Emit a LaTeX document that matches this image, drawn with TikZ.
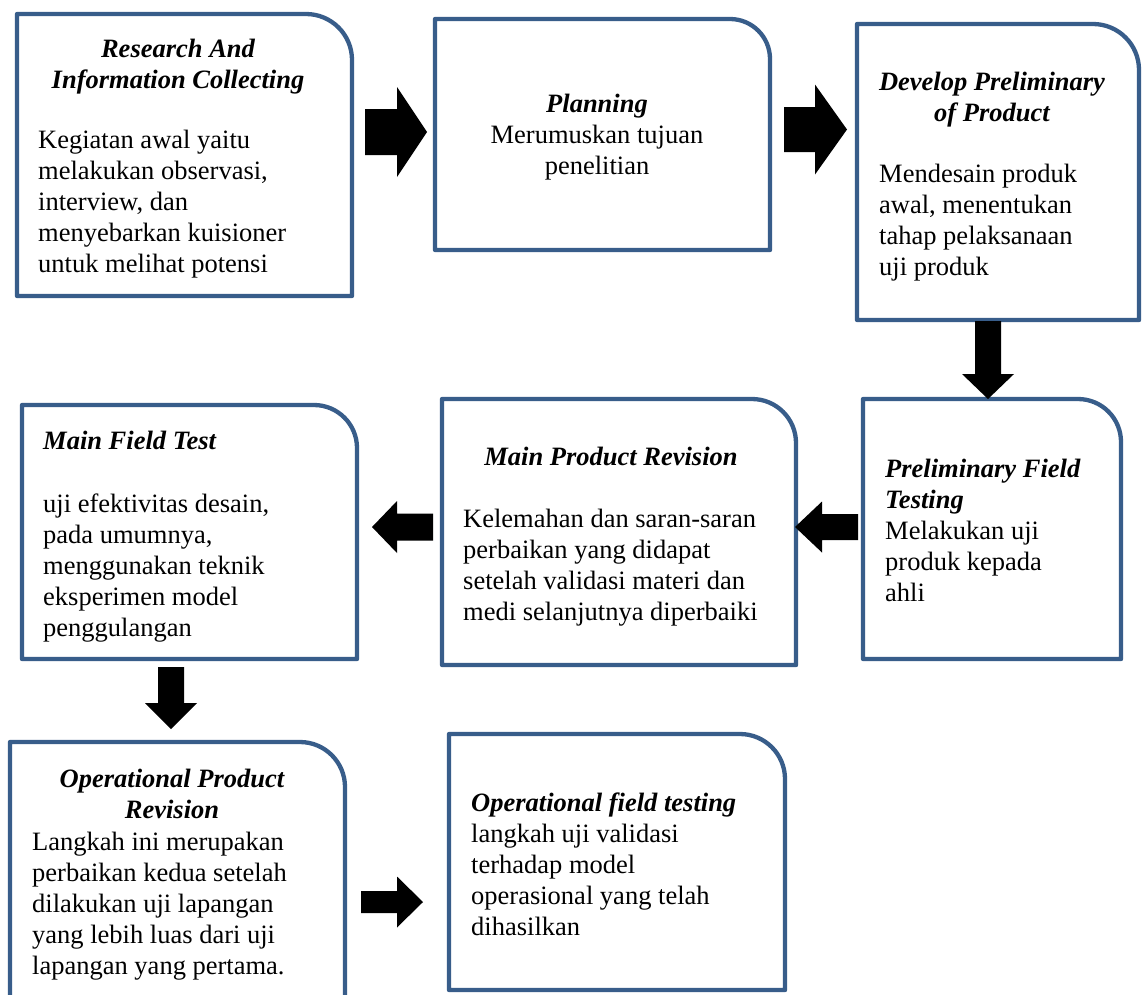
\documentclass[tikz,border=0pt]{standalone}
\usepackage{fontspec}
\setmainfont{Liberation Serif}
\usetikzlibrary{fit}
\definecolor{bord}{HTML}{385D8A}
\tikzset{
  border/.style={draw=bord, line width=4.3pt, line join=round},
  boxnode/.style={inner sep=0pt, outer sep=0pt},
  txt/.style={inner sep=0pt, font=\fontsize{26.5}{31}\selectfont},
  ttl/.style={inner sep=0pt, font=\fontsize{26.5}{31}\selectfont\bfseries\itshape},
  blk/.style={fill=black}
}
\newcommand{\rbox}[6]{%
  \node[boxnode, fit={(#2,-#3) (#4,-#5)}] (#1) {};
  \draw[border] (#1.south west) -- (#1.north west) -- ([xshift=-#6pt]#1.north east)
    arc[start angle=90, end angle=0, radius=#6pt] -- (#1.south east) -- cycle;
}
% horizontal block arrow: x0 (tail), x1 (head base), x2 (tip), yc, shaft half, head half
\newcommand{\harrow}[6]{%
  \fill[blk] (#1,{-(#4)+(#5)}) -- (#2,{-(#4)+(#5)}) -- (#2,{-(#4)+(#6)}) -- (#3,{-(#4)})
    -- (#2,{-(#4)-(#6)}) -- (#2,{-(#4)-(#5)}) -- (#1,{-(#4)-(#5)}) -- cycle;}
% vertical block arrow: y0 (tail), y1 (head base), y2 (tip), xc, shaft half, head half
\newcommand{\varrow}[6]{%
  \fill[blk] ({#4-#5},-#1) -- ({#4-#5},-#2) -- ({#4-#6},-#2) -- (#4,-#3)
    -- ({#4+#6},-#2) -- ({#4+#5},-#2) -- ({#4+#5},-#1) -- cycle;}
\begin{document}
\begin{tikzpicture}[x=1pt,y=1pt]
\useasboundingbox (0,0) rectangle (1142,-994);
\clip (0,0) rectangle (1142,-994);
\fill[white] (0,0) rectangle (1142,-994);

% boxes
\rbox{b1}{17}{14}{352}{296}{46}
\rbox{b2}{435}{19}{770}{250}{40}
\rbox{b3}{857}{24}{1139}{320}{46}
\rbox{b4}{863}{399}{1121}{659}{43}
\rbox{b5}{442}{399}{796}{665}{44}
\rbox{b6}{22}{405}{357}{659}{43}
\rbox{b7}{10}{742}{345}{1030}{45}
\rbox{b8}{449}{734}{785}{990}{45}

% texts (anchored at the baseline of their last line)
\node[ttl, anchor=base, align=center] (t1) at (178,-88) {Research And\\Information Collecting};
\node[txt, anchor=base west, align=left] (d1) at (38,-272) {Kegiatan awal yaitu\\melakukan observasi,\\interview, dan\\menyebarkan kuisioner\\untuk melihat potensi};

\node[txt, anchor=base, align=center] (t2) at (597,-174) {\textbf{\textit{Planning}}\\Merumuskan tujuan\\penelitian};

\node[ttl, anchor=base, align=center] (t3) at (992,-121) {Develop Preliminary\\of Product};
\node[txt, anchor=base west, align=left] (d3) at (879,-275) {Mendesain produk\\awal, menentukan\\tahap pelaksanaan\\uji produk};

\node[txt, anchor=base west, align=left] (t4) at (885,-601) {\textbf{\textit{Preliminary Field}}\\\textbf{\textit{Testing}}\\Melakukan uji\\produk kepada\\ahli};

\node[ttl, anchor=base, align=center] (t5) at (611,-465) {Main Product Revision};
\node[txt, anchor=base west, align=left] (d5) at (463,-620) {Kelemahan dan saran-saran\\perbaikan yang didapat\\setelah validasi materi dan\\medi selanjutnya diperbaiki};

\node[ttl, anchor=base west, align=left] (t6) at (43,-449) {Main Field Test};
\node[txt, anchor=base west, align=left] (d6) at (43,-636) {uji efektivitas desain,\\pada umumnya,\\menggunakan teknik\\eksperimen model\\penggulangan};

\node[ttl, anchor=base, align=center] (t7) at (172,-818) {Operational Product\\Revision};
\node[txt, anchor=base west, align=left] (d7) at (32,-974) {Langkah ini merupakan\\perbaikan kedua setelah\\dilakukan uji lapangan\\yang lebih luas dari uji\\lapangan yang pertama.};

\node[txt, anchor=base west, align=left] (t8) at (471,-935) {\textbf{\textit{Operational field testing}}\\langkah uji validasi\\terhadap model\\operasional yang telah\\dihasilkan};

% block arrows
\harrow{365}{397}{427}{132}{23}{45}
\harrow{784}{815}{847}{129.5}{22.5}{45}
\varrow{321}{374}{399}{988}{13}{26}
\harrow{858}{822}{795}{527}{13}{25.5}
\harrow{433}{397}{372}{527}{13.5}{26}
\varrow{667}{703}{729}{171}{13}{26}
\harrow{361}{397}{423}{902}{11}{25.5}
\end{tikzpicture}
\end{document}
